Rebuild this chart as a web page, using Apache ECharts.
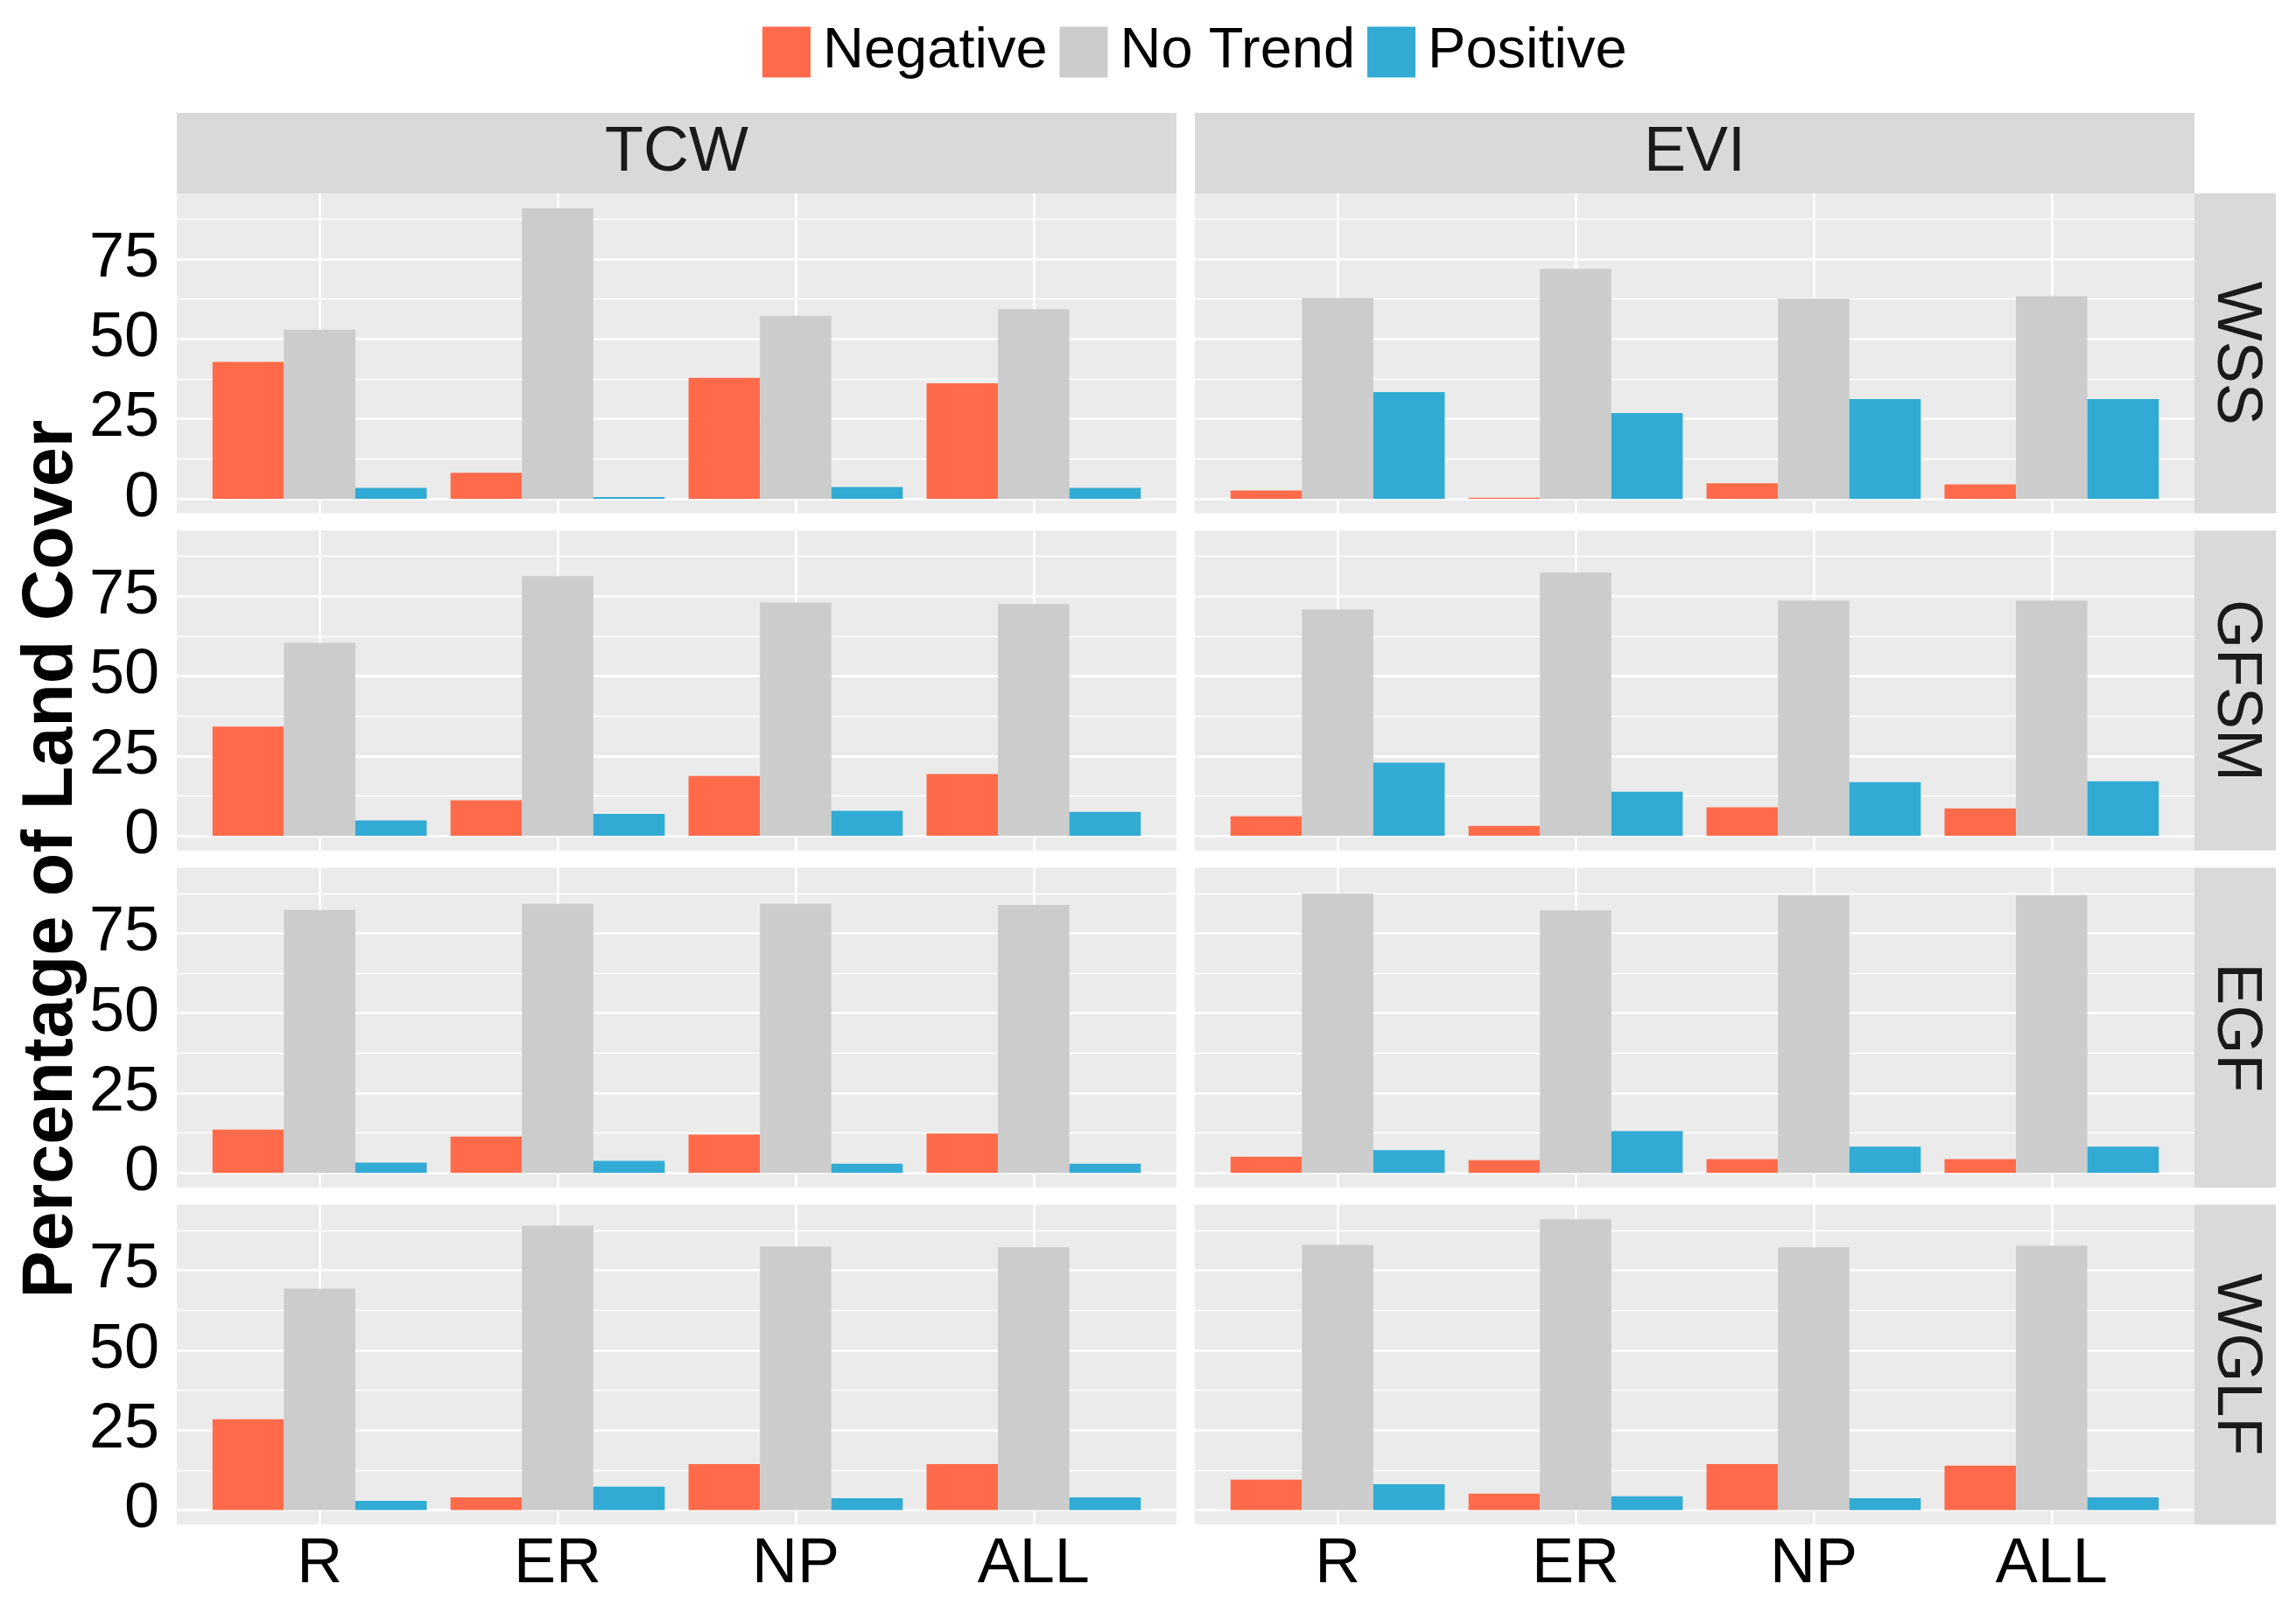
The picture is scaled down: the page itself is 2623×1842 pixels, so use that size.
<!DOCTYPE html>
<html><head><meta charset="utf-8">
<script src="https://cdn.jsdelivr.net/npm/echarts@6/dist/echarts.min.js"></script>
<style>html,body{margin:0;padding:0;background:#fff}#c{width:2623px;height:1842px}</style>
</head><body><div id="c"></div>
<script>
// ---------- DATA ----------
const categories = ['R', 'ER', 'NP', 'ALL'];
const trends = ['Negative', 'No Trend', 'Positive'];
const indices = ['TCW', 'EVI'];
const landCovers = ['WSS', 'GFSM', 'EGF', 'WGLF'];
const yTickLabels = [0, 25, 50, 75];
const yMinorBreaks = [12.5, 37.5, 62.5, 87.5];

const tcw_wss_negative  = [42.8, 8.1, 37.8, 36.1];
const tcw_wss_notrend   = [52.9, 90.9, 57.3, 59.3];
const tcw_wss_positive  = [3.4, 0.5, 3.7, 3.4];
const tcw_gfsm_negative = [34.2, 11.1, 18.7, 19.3];
const tcw_gfsm_notrend  = [60.4, 81.3, 73.0, 72.5];
const tcw_gfsm_positive = [4.8, 6.9, 7.8, 7.5];
const tcw_egf_negative  = [13.6, 11.4, 12.0, 12.3];
const tcw_egf_notrend   = [82.3, 84.2, 84.2, 83.9];
const tcw_egf_positive  = [3.2, 3.8, 2.9, 2.9];
const tcw_wglf_negative = [28.4, 4.0, 14.4, 14.4];
const tcw_wglf_notrend  = [69.3, 89.0, 82.4, 82.2];
const tcw_wglf_positive = [2.9, 7.3, 3.7, 4.0];

const evi_wss_negative  = [2.6, 0.3, 4.8, 4.5];
const evi_wss_notrend   = [62.8, 71.9, 62.6, 63.4];
const evi_wss_positive  = [33.4, 26.8, 31.2, 31.2];
const evi_gfsm_negative = [6.1, 3.1, 8.9, 8.6];
const evi_gfsm_notrend  = [70.8, 82.4, 73.6, 73.6];
const evi_gfsm_positive = [22.9, 13.8, 16.8, 17.1];
const evi_egf_negative  = [5.1, 4.0, 4.3, 4.3];
const evi_egf_notrend   = [87.4, 82.2, 86.9, 86.9];
const evi_egf_positive  = [7.1, 13.1, 8.2, 8.2];
const evi_wglf_negative = [9.5, 5.1, 14.4, 13.9];
const evi_wglf_notrend  = [83.0, 91.0, 82.2, 82.7];
const evi_wglf_positive = [8.1, 4.3, 3.7, 4.0];

const panelValues = {
  TCW: {
    WSS:  [tcw_wss_negative,  tcw_wss_notrend,  tcw_wss_positive],
    GFSM: [tcw_gfsm_negative, tcw_gfsm_notrend, tcw_gfsm_positive],
    EGF:  [tcw_egf_negative,  tcw_egf_notrend,  tcw_egf_positive],
    WGLF: [tcw_wglf_negative, tcw_wglf_notrend, tcw_wglf_positive]
  },
  EVI: {
    WSS:  [evi_wss_negative,  evi_wss_notrend,  evi_wss_positive],
    GFSM: [evi_gfsm_negative, evi_gfsm_notrend, evi_gfsm_positive],
    EGF:  [evi_egf_negative,  evi_egf_notrend,  evi_egf_positive],
    WGLF: [evi_wglf_negative, evi_wglf_notrend, evi_wglf_positive]
  }
};

// ---------- STYLE / LAYOUT ----------
const colors = ['#FF6B4A', '#CCCCCC', '#31ABD4'];
const FONT = "'Liberation Sans', Arial, sans-serif";
const colX = [202, 1365];
const colW = 1142;
const rowY = [221, 606.2, 991.4, 1376.6];
const rowH = 365.5;
const stripTop = 129, stripH = 92;
const rightStripX = 2507, rightStripW = 93;
const yMin = -4.55, yMax = 95.55;
const xMin = 0.4, xMax = 4.6;
const barW = colW / (xMax - xMin) * 0.3;

const grids = [], xAxes = [], yAxes = [], series = [], graphics = [];

landCovers.forEach((lc, r) => {
  indices.forEach((idx, c) => {
    const g = grids.length;
    grids.push({
      left: colX[c], top: rowY[r], width: colW, height: rowH,
      show: true, backgroundColor: '#EBEBEB', borderWidth: 0
    });
    xAxes.push({
      type: 'value', gridIndex: g, min: xMin, max: xMax,
      axisLine: { show: false }, axisTick: { show: false }, splitLine: { show: false },
      axisLabel: {
        show: r === landCovers.length - 1,
        customValues: categories.map((_, k) => k + 1),
        formatter: v => categories[Math.round(v) - 1] || '',
        fontSize: 72, fontFamily: FONT, color: '#000', margin: 10
      }
    });
    yAxes.push({
      type: 'value', gridIndex: g, min: yMin, max: yMax,
      axisLine: { show: false }, axisTick: { show: false }, splitLine: { show: false },
      axisLabel: {
        show: c === 0,
        customValues: yTickLabels,
        fontSize: 72, fontFamily: FONT, color: '#000', margin: 20
      }
    });
    // gridlines (drawn under bars)
    const ml = [];
    yTickLabels.forEach(v => ml.push({ yAxis: v, lineStyle: { width: 2.7 } }));
    yMinorBreaks.forEach(v => ml.push({ yAxis: v, lineStyle: { width: 1.4 } }));
    categories.forEach((_, k) => ml.push({ xAxis: k + 1, lineStyle: { width: 2.7 } }));
    series.push({
      type: 'line', xAxisIndex: g, yAxisIndex: g, data: [], silent: true, z: 1,
      markLine: {
        silent: true, symbol: 'none', z: 1, animation: false,
        label: { show: false },
        lineStyle: { color: '#FFFFFF', type: 'solid' },
        data: ml
      }
    });
    const vals = panelValues[idx][lc];
    trends.forEach((t, ti) => {
      series.push({
        type: 'bar', name: t, xAxisIndex: g, yAxisIndex: g,
        data: vals[ti].map((v, k) => [k + 1, v]),
        barWidth: barW, barGap: '0%', z: 2,
        itemStyle: { color: colors[ti] },
        silent: true
      });
    });
  });
  // right strip
  graphics.push({
    type: 'rect', shape: { x: rightStripX, y: rowY[r], width: rightStripW, height: rowH },
    style: { fill: '#D9D9D9' }, silent: true
  });
  graphics.push({
    type: 'text', x: rightStripX + rightStripW / 2, y: rowY[r] + rowH / 2, rotation: -Math.PI / 2,
    style: { text: lc, fontSize: 72, fontFamily: FONT, fill: '#1A1A1A', align: 'center', verticalAlign: 'middle' },
    silent: true
  });
});

indices.forEach((idx, c) => {
  graphics.push({
    type: 'rect', shape: { x: colX[c], y: stripTop, width: colW, height: stripH },
    style: { fill: '#D9D9D9' }, silent: true
  });
  graphics.push({
    type: 'text', x: colX[c] + colW / 2, y: stripTop + stripH / 2,
    style: { text: idx, fontSize: 72, fontFamily: FONT, fill: '#1A1A1A', align: 'center', verticalAlign: 'middle' },
    silent: true
  });
});

graphics.push({
  type: 'text', x: 60, y: (rowY[0] + rowY[3] + rowH) / 2, rotation: Math.PI / 2,
  style: { text: 'Percentage of Land Cover', fontSize: 81, fontWeight: 'bold', fontFamily: FONT, fill: '#000', align: 'center', verticalAlign: 'middle' },
  silent: true
});

const chart = echarts.init(document.getElementById('c'), null, { renderer: 'canvas' });
chart.setOption({
  animation: false,
  backgroundColor: '#FFFFFF',
  legend: {
    data: trends, left: 866, top: 22, orient: 'horizontal',
    icon: 'rect', itemWidth: 55, itemHeight: 58, itemGap: 14,
    textStyle: { fontSize: 65, fontFamily: FONT, color: '#000', padding: [0, 0, 0, 9] },
    selectedMode: false
  },
  grid: grids, xAxis: xAxes, yAxis: yAxes, series: series,
  graphic: graphics
});
</script></body></html>
